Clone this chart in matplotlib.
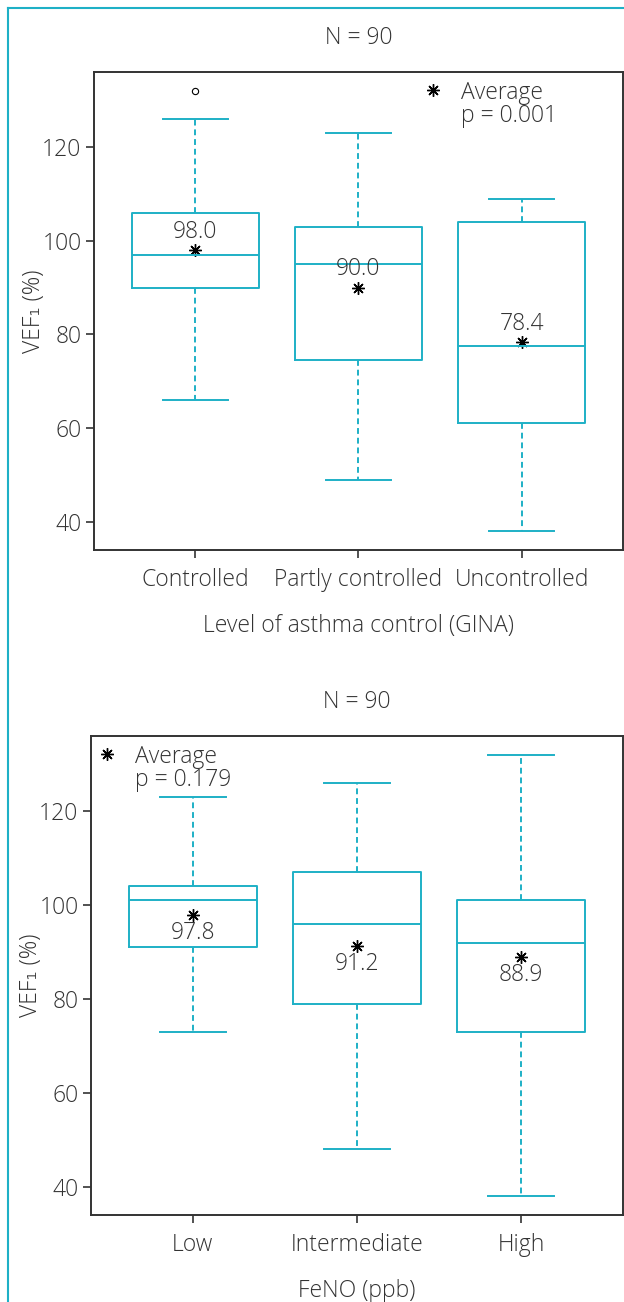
import matplotlib
matplotlib.use("Agg")
import matplotlib.pyplot as plt
from matplotlib.lines import Line2D

plt.rcParams['font.family'] = ['Open Sans', 'DejaVu Sans']
plt.rcParams['font.weight'] = 'light'
plt.rcParams['axes.titleweight'] = 'light'
plt.rcParams['axes.labelweight'] = 'light'

TEAL = '#1eb0c6'
INK = '#333333'
FS = 16.5

# panel 1: level of asthma control (GINA)
gina_labels = ['Controlled', 'Partly controlled', 'Uncontrolled']
gina_whislo = [66, 49, 38]
gina_q1 = [90, 74.5, 61]
gina_med = [97, 95, 77.5]
gina_q3 = [106, 103, 104]
gina_whishi = [126, 123, 109]
gina_mean = [98.0, 90.0, 78.4]
gina_fliers = [[132], [], []]
gina_p = 'p = 0.001'

# panel 2: FeNO (ppb)
feno_labels = ['Low', 'Intermediate', 'High']
feno_whislo = [73, 48, 38]
feno_q1 = [91, 79, 73]
feno_med = [101, 96, 92]
feno_q3 = [104, 107, 101]
feno_whishi = [123, 126, 132]
feno_mean = [97.8, 91.2, 88.9]
feno_fliers = [[], [], []]
feno_p = 'p = 0.179'


def make_stats(labels, lo, q1, med, q3, hi, mean, fliers):
    stats = []
    for i in range(len(labels)):
        stats.append(dict(label=labels[i], whislo=lo[i], q1=q1[i], med=med[i],
                          q3=q3[i], whishi=hi[i], mean=mean[i], fliers=fliers[i]))
    return stats


def draw_panel(ax, stats, xlabel, ptext, legend_xy, label_offset, ylab_x):
    ax.bxp(stats, positions=[1, 2, 3], widths=0.78, showmeans=False,
           boxprops=dict(color=TEAL, linewidth=1.4),
           medianprops=dict(color=TEAL, linewidth=1.4),
           whiskerprops=dict(color=TEAL, linewidth=1.4, linestyle=(0, (3, 2))),
           capprops=dict(color=TEAL, linewidth=1.4),
           capwidths=0.4,
           flierprops=dict(marker='o', markersize=4.5, markerfacecolor='white',
                           markeredgecolor='black', markeredgewidth=0.8))
    means = [s['mean'] for s in stats]
    ax.plot([1, 2, 3], means, linestyle='none', marker=(8, 2, 0),
            markersize=9, color='black', markeredgewidth=1.0)
    for x, m in zip([1, 2, 3], means):
        ax.annotate('%.1f' % m, (x, m), xytext=(0, label_offset),
                    textcoords='offset points', ha='center', va='center',
                    fontsize=FS, color=INK)

    # legend-like annotation
    lx, ly = legend_xy
    ax.plot([lx], [ly], linestyle='none', marker=(8, 2, 0), markersize=9,
            color='black', markeredgewidth=1.0)
    ax.text(lx + 0.17, ly - 0.5, 'Average', fontsize=FS, color=INK,
            va='center', ha='left')
    ax.text(lx + 0.17, ly - 5.5, ptext, fontsize=FS, color=INK,
            va='center', ha='left')

    ax.set_xlim(0.38, 3.62)
    ax.set_ylim(34, 136)
    ax.set_yticks([40, 60, 80, 100, 120])
    ax.set_xticks([1, 2, 3])
    ax.set_xticklabels([s['label'] for s in stats])
    ax.tick_params(axis='both', labelsize=FS, colors=INK, length=6,
                   width=1.2, direction='out', pad=3)
    ax.tick_params(axis='x', pad=7)
    for sp in ax.spines.values():
        sp.set_color(INK)
        sp.set_linewidth(1.4)
    ax.set_title('N = 90', fontsize=FS, color=INK, pad=20)
    ax.set_xlabel(xlabel, fontsize=FS, color=INK, labelpad=16)
    ax.set_ylabel('VEF\u2081 (%)', fontsize=FS, color=INK)
    ax.yaxis.set_label_coords(ylab_x, 0.5)


fig = plt.figure(figsize=(6.24, 13.02), dpi=100)

ax1 = fig.add_axes([0.1506, 0.5776, 0.8474, 0.3671])
draw_panel(ax1, make_stats(gina_labels, gina_whislo, gina_q1, gina_med, gina_q3,
                           gina_whishi, gina_mean, gina_fliers),
           'Level of asthma control (GINA)', gina_p, (2.46, 132.1), 13, -0.091)

ax2 = fig.add_axes([0.1458, 0.0668, 0.8522, 0.3679])
draw_panel(ax2, make_stats(feno_labels, feno_whislo, feno_q1, feno_med, feno_q3,
                           feno_whishi, feno_mean, feno_fliers),
           'FeNO (ppb)', feno_p, (0.48, 132.1), -13, -0.090)

# teal frame on the left and top
fig.add_artist(Line2D([8 / 624, 8 / 624], [0, 1 - 8 / 1302], color=TEAL,
                      linewidth=1.5, transform=fig.transFigure))
fig.add_artist(Line2D([8 / 624, 1], [1 - 8 / 1302, 1 - 8 / 1302], color=TEAL,
                      linewidth=1.5, transform=fig.transFigure))

fig.savefig('out.png', dpi=100)
